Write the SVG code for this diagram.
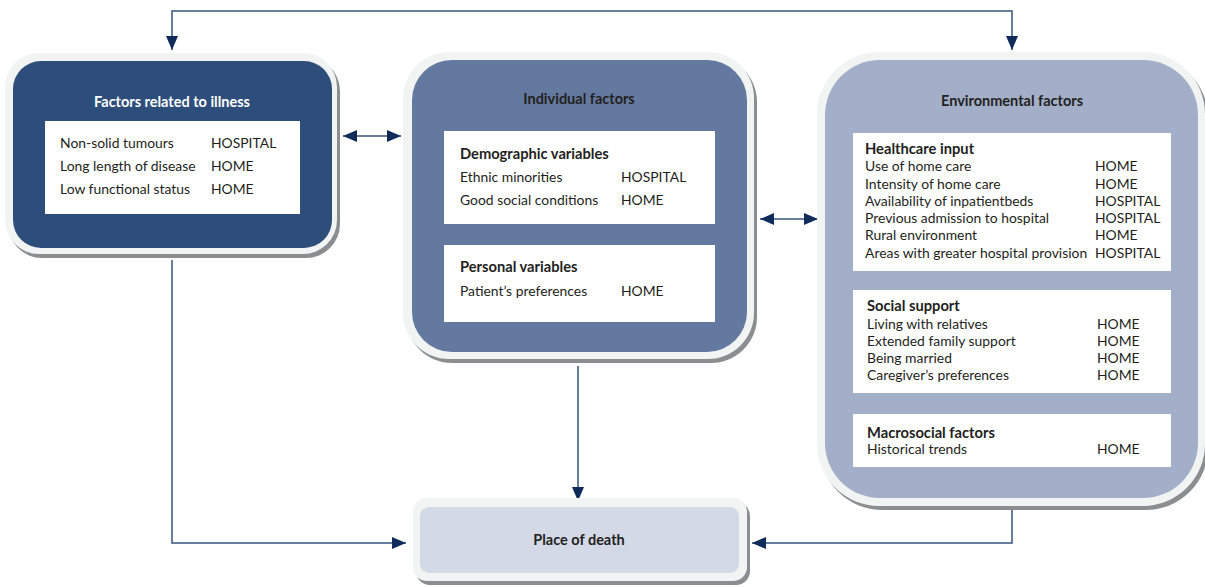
<svg xmlns="http://www.w3.org/2000/svg" width="1205" height="587" viewBox="0 0 1205 587">
<style>
.shadow{fill:#8c8d8f}
.rim{fill:#f2f3f3}
.inner{fill:#ffffff}
.title{font-family:Lato,"Liberation Sans",sans-serif;font-size:14.5px;font-weight:bold;text-anchor:middle}
.head{font-family:Lato,"Liberation Sans",sans-serif;font-size:14.7px;font-weight:bold;fill:#231f20}
.t{font-family:Lato,"Liberation Sans",sans-serif;font-size:13.9px;fill:#231f20}
.line{fill:none;stroke:#34547e;stroke-width:1.5}
</style>
<defs>
<marker id="ah" viewBox="0 0 14 12" refX="14" refY="6" markerWidth="14" markerHeight="12" markerUnits="userSpaceOnUse" orient="auto-start-reverse">
<path d="M0,0 L14,6 L0,12 Z" fill="#0e2b5a"/>
</marker>
</defs>
<rect width="1205" height="587" fill="#ffffff"/>

<g id="connectors">
<path class="line" d="M172,50 V11 H1012 V50" marker-start="url(#ah)" marker-end="url(#ah)"/>
<path class="line" d="M343,136 H401" marker-start="url(#ah)" marker-end="url(#ah)"/>
<path class="line" d="M760,219 H818" marker-start="url(#ah)" marker-end="url(#ah)"/>
<path class="line" d="M172,260 V543 H406" marker-end="url(#ah)"/>
<path class="line" d="M578,366 V501" marker-end="url(#ah)"/>
<path class="line" d="M1012,510 V543 H752" marker-end="url(#ah)"/>
</g>

<g id="illness">
<rect class="shadow" x="8" y="57" width="332" height="201" rx="34"/>
<rect class="rim" x="5" y="53" width="332" height="201" rx="34"/>
<rect x="13" y="61" width="319" height="187" rx="28" fill="#2d4e7b"/>
<text class="title" x="172" y="107" fill="#ffffff">Factors related to illness</text>
<rect class="inner" x="45" y="121" width="255" height="93"/>
<text class="t" x="60" y="148">Non-solid tumours</text>
<text class="t" x="211" y="148">HOSPITAL</text>
<text class="t" x="60" y="171">Long length of disease</text>
<text class="t" x="211" y="171">HOME</text>
<text class="t" x="60" y="194">Low functional status</text>
<text class="t" x="211" y="194">HOME</text>
</g>

<g id="individual">
<rect class="shadow" x="406" y="56" width="351" height="307" rx="46"/>
<rect class="rim" x="403" y="52" width="351" height="307" rx="46"/>
<rect x="412" y="60" width="335" height="292" rx="40" fill="#64799f"/>
<text class="title" x="579" y="104" fill="#231f20">Individual factors</text>
<rect class="inner" x="444" y="131" width="271" height="93"/>
<text class="head" x="460" y="159">Demographic variables</text>
<text class="t" x="460" y="182">Ethnic minorities</text>
<text class="t" x="621" y="182">HOSPITAL</text>
<text class="t" x="460" y="205">Good social conditions</text>
<text class="t" x="621" y="205">HOME</text>
<rect class="inner" x="444" y="245" width="271" height="77"/>
<text class="head" x="460" y="272">Personal variables</text>
<text class="t" x="460" y="296">Patient’s preferences</text>
<text class="t" x="621" y="296">HOME</text>
</g>

<g id="environmental">
<rect class="shadow" x="820" y="56" width="388" height="454" rx="62"/>
<rect class="rim" x="817" y="52" width="388" height="454" rx="62"/>
<rect x="825" y="60" width="373" height="438" rx="55" fill="#a3afc9"/>
<text class="title" x="1012" y="106" fill="#231f20">Environmental factors</text>
<rect class="inner" x="853" y="133" width="318" height="138"/>
<text class="head" x="865" y="154">Healthcare input</text>
<text class="t" x="865" y="171">Use of home care</text>
<text class="t" x="1095" y="171">HOME</text>
<text class="t" x="865" y="189">Intensity of home care</text>
<text class="t" x="1095" y="189">HOME</text>
<text class="t" x="865" y="206">Availability of inpatientbeds</text>
<text class="t" x="1095" y="206">HOSPITAL</text>
<text class="t" x="865" y="223">Previous admission to hospital</text>
<text class="t" x="1095" y="223">HOSPITAL</text>
<text class="t" x="865" y="240">Rural environment</text>
<text class="t" x="1095" y="240">HOME</text>
<text class="t" x="865" y="258">Areas with greater hospital provision</text>
<text class="t" x="1095" y="258">HOSPITAL</text>
<rect class="inner" x="853" y="290" width="318" height="103"/>
<text class="head" x="867" y="311">Social support</text>
<text class="t" x="867" y="329">Living with relatives</text>
<text class="t" x="1097" y="329">HOME</text>
<text class="t" x="867" y="346">Extended family support</text>
<text class="t" x="1097" y="346">HOME</text>
<text class="t" x="867" y="363">Being married</text>
<text class="t" x="1097" y="363">HOME</text>
<text class="t" x="867" y="380">Caregiver’s preferences</text>
<text class="t" x="1097" y="380">HOME</text>
<rect class="inner" x="853" y="414" width="318" height="53"/>
<text class="head" x="867" y="438">Macrosocial factors</text>
<text class="t" x="867" y="454">Historical trends</text>
<text class="t" x="1097" y="454">HOME</text>
</g>

<g id="place">
<rect class="shadow" x="416" y="502" width="334" height="83" rx="14"/>
<rect class="rim" x="413" y="498" width="334" height="83" rx="14"/>
<rect x="420" y="507" width="319" height="66" rx="9" fill="#d3d9e6"/>
<text class="title" x="579" y="545" fill="#231f20">Place of death</text>
</g>
</svg>
